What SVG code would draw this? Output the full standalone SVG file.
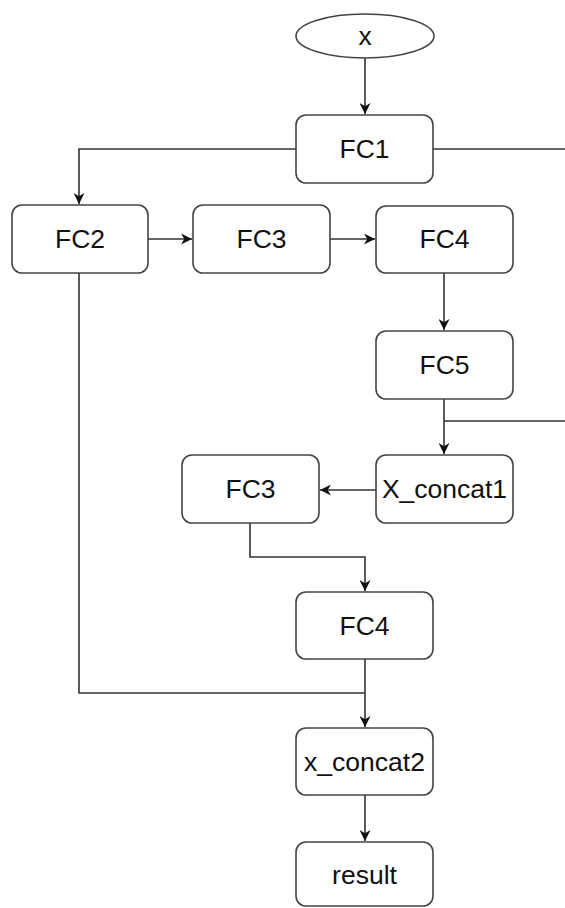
<svg xmlns="http://www.w3.org/2000/svg" width="565" height="908" viewBox="0 0 565 908">
<style>
.n{fill:#fff;stroke:#444;stroke-width:1.6}
.t{font-family:"Liberation Sans",Arial,sans-serif;font-size:26.5px;fill:#111;text-anchor:middle;dominant-baseline:central}
.c{fill:none;stroke:#333;stroke-width:1.6}
</style>
<defs>
<marker id="a" viewBox="0 0 10 10" refX="10" refY="5" markerWidth="11" markerHeight="11" markerUnits="userSpaceOnUse" orient="auto">
<path d="M0,0 L10,5 L0,10 L3,5 Z" fill="#111"/>
</marker>
</defs>
<g id="connectors">
<path class="c" d="M365,58 V114" marker-end="url(#a)"/>
<path class="c" d="M296,149 H79 V204" marker-end="url(#a)"/>
<path class="c" d="M433,149 H565"/>
<path class="c" d="M148,239 H192" marker-end="url(#a)"/>
<path class="c" d="M330,239 H375" marker-end="url(#a)"/>
<path class="c" d="M444,273 V330" marker-end="url(#a)"/>
<path class="c" d="M444,399 V454" marker-end="url(#a)"/>
<path class="c" d="M444,421 H565"/>
<path class="c" d="M376,490 H320" marker-end="url(#a)"/>
<path class="c" d="M250,523 V557 H365 V591" marker-end="url(#a)"/>
<path class="c" d="M365,659 V727" marker-end="url(#a)"/>
<path class="c" d="M79,273 V693 H365"/>
<path class="c" d="M365,795 V841" marker-end="url(#a)"/>
</g>
<g id="x"><ellipse class="n" cx="365" cy="36" rx="69" ry="22"/><text class="t" x="365" y="36">x</text></g>
<g id="fc1"><rect class="n" x="296" y="115" width="137" height="68" rx="10"/><text class="t" x="364.5" y="149">FC1</text></g>
<g id="fc2"><rect class="n" x="12" y="205" width="136" height="68" rx="10"/><text class="t" x="80" y="239">FC2</text></g>
<g id="fc3a"><rect class="n" x="193" y="205" width="137" height="68" rx="10"/><text class="t" x="261.5" y="239">FC3</text></g>
<g id="fc4a"><rect class="n" x="376" y="206" width="137" height="67" rx="10"/><text class="t" x="444.5" y="239">FC4</text></g>
<g id="fc5"><rect class="n" x="376" y="331" width="137" height="68" rx="10"/><text class="t" x="444.5" y="365">FC5</text></g>
<g id="xconcat1"><rect class="n" x="376" y="455" width="137" height="68" rx="10"/><text class="t" x="444.5" y="489">X_concat1</text></g>
<g id="fc3b"><rect class="n" x="182" y="455" width="137" height="68" rx="10"/><text class="t" x="250.5" y="489">FC3</text></g>
<g id="fc4b"><rect class="n" x="296" y="592" width="137" height="67" rx="10"/><text class="t" x="364.5" y="626">FC4</text></g>
<g id="xconcat2"><rect class="n" x="296" y="728" width="137" height="67" rx="10"/><text class="t" x="364.5" y="762">x_concat2</text></g>
<g id="result"><rect class="n" x="296" y="842" width="137" height="64" rx="10"/><text class="t" x="364.5" y="875">result</text></g>
</svg>
